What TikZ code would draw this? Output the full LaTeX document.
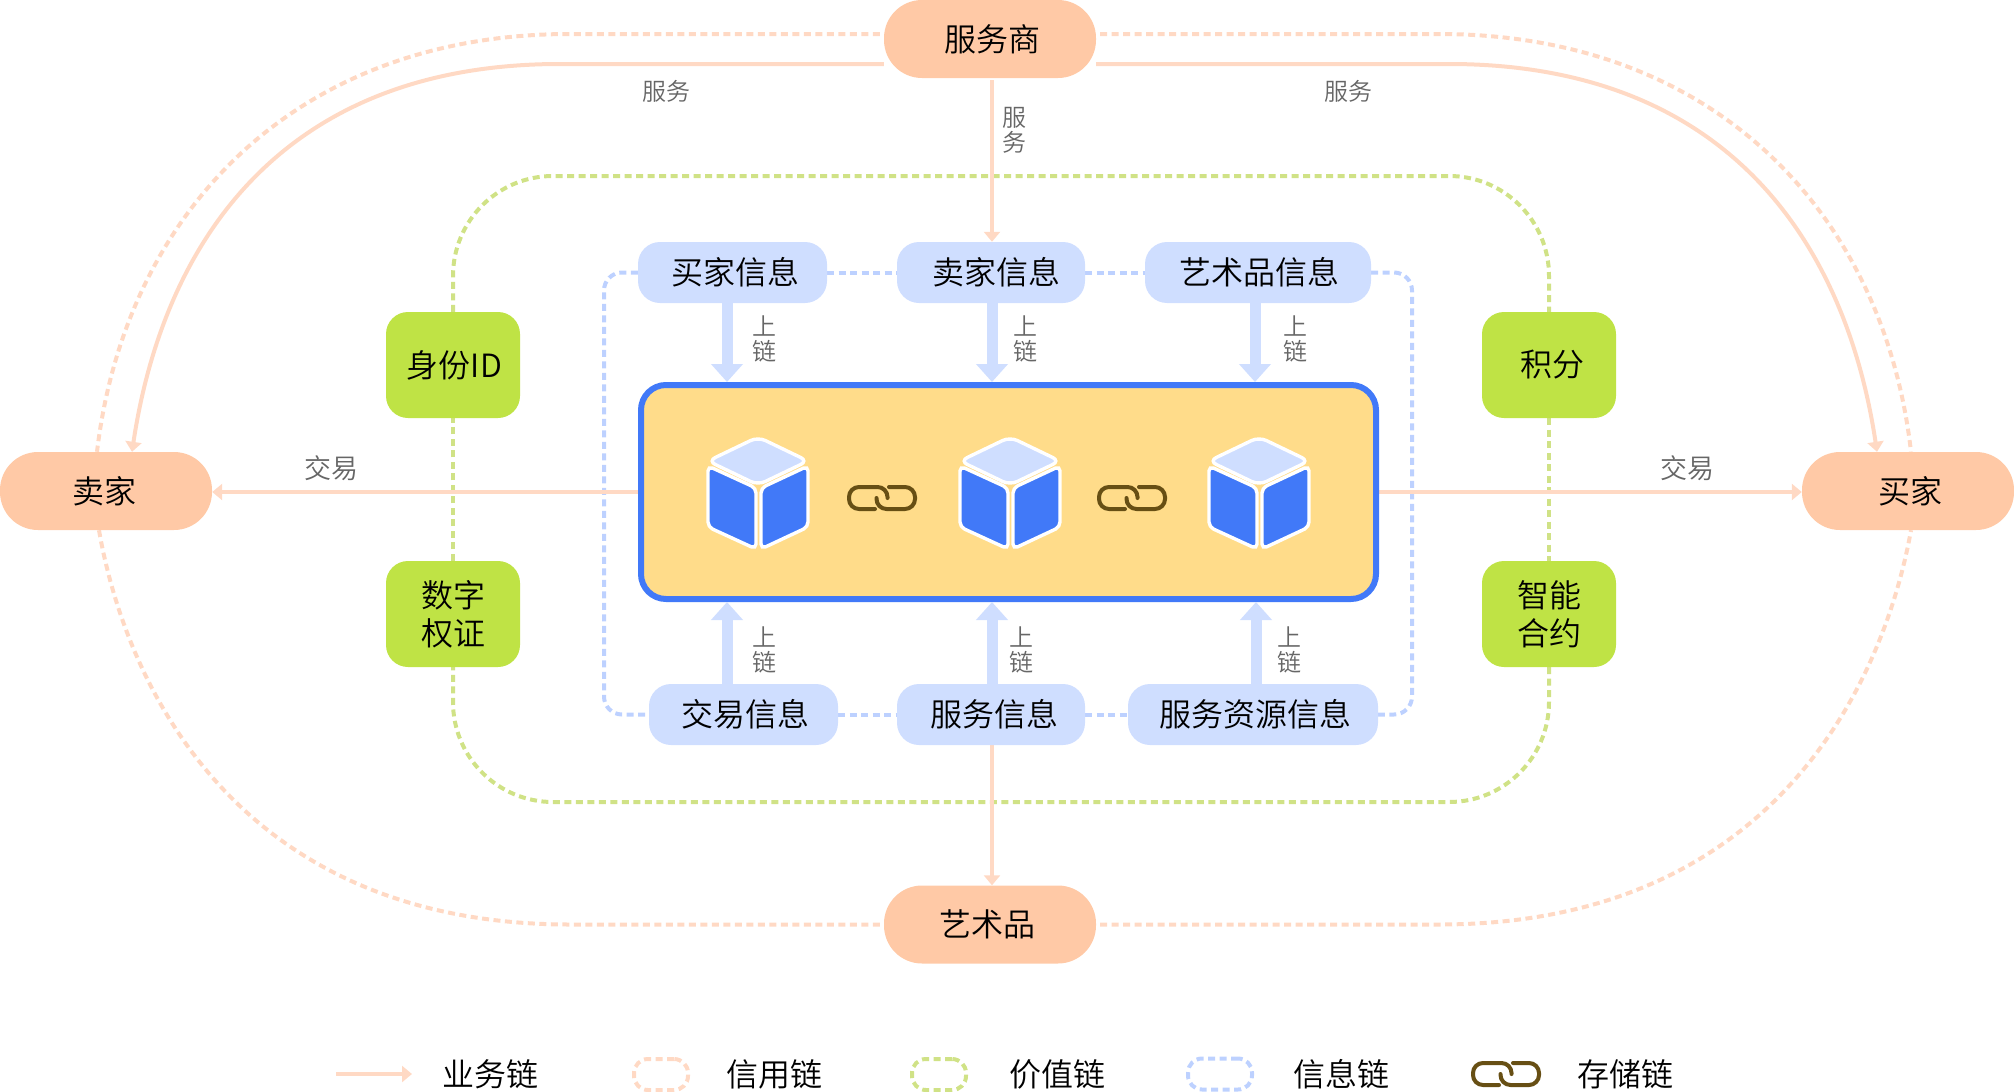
\documentclass[tikz,border=0pt]{standalone}
\usepackage{fontspec}
\setmainfont{Noto Sans CJK SC}[UprightFont=* DemiLight]
\usetikzlibrary{arrows.meta,backgrounds}
\definecolor{partyfill}{HTML}{FFC9A6}
\definecolor{bizline}{HTML}{FFD9C4}
\definecolor{tokenfill}{HTML}{BFE345}
\definecolor{valueline}{HTML}{D0E286}
\definecolor{infofill}{HTML}{CFDEFF}
\definecolor{infoline}{HTML}{BDD1FF}
\definecolor{chainblue}{HTML}{4179F8}
\definecolor{ledgerfill}{HTML}{FFDC8A}
\definecolor{linkbrown}{HTML}{674F14}
\definecolor{labelgray}{HTML}{666666}
\tikzset{
    party/.style={fill=partyfill, rounded corners=38pt, minimum width=212pt, minimum height=78pt, inner sep=0pt, font=\fontsize{32}{38}\selectfont},
    infobox/.style={fill=infofill, rounded corners=22pt, minimum height=61pt, inner sep=0pt, font=\fontsize{32}{38}\selectfont},
    tokenbox/.style={fill=tokenfill, rounded corners=22pt, minimum width=134pt, minimum height=106pt, inner sep=0pt, align=center, font=\fontsize{32}{38}\selectfont},
    ledger/.style={draw=chainblue, line width=6pt, fill=ledgerfill, rounded corners=25pt, minimum width=735pt, minimum height=214pt},
    smalllabel/.style={text=labelgray, inner sep=0pt, align=center, font=\fontsize{24}{25}\selectfont},
    legendtext/.style={inner sep=0pt, font=\fontsize{32}{36}\selectfont},
    bizarrow/.style={draw=bizline, line width=4pt, -{Triangle[width=16pt,length=10pt]}},
    creditchain/.style={draw=bizline, line width=4pt, dash pattern=on 7pt off 4.5pt},
    valuechain/.style={draw=valueline, line width=4pt, dash pattern=on 7pt off 4.5pt, rounded corners=100pt},
    infochain/.style={draw=infoline, line width=4pt, dash pattern=on 7pt off 4.5pt, rounded corners=18pt},
    uparrow/.style={draw=infofill, line width=11pt, -{Triangle[width=31pt,length=18pt]}},
    swatch/.style={line width=4pt, dash pattern=on 7pt off 4.5pt, rounded corners=14pt, inner sep=0pt, minimum height=31pt},
    blockcube/.pic={
        \begin{scope}[draw=white, line width=3.4pt, rounded corners=5pt, fill=chainblue]
            \filldraw[fill=infofill, rounded corners=8pt] (0,-57) -- (50,-33) -- (0,-9) -- (-50,-33) -- cycle;
            \filldraw (-50,-28) -- (-2,-6) -- (-2,55) -- (-50,33) -- cycle;
            \filldraw (3,-6) -- (50,-28) -- (50,33) -- (3,55) -- cycle;
        \end{scope}
    },
    chainlink/.pic={
        \begin{scope}[draw=linkbrown, line width=4pt, line cap=round, rounded corners=10pt]
            \draw (-7,11) -- (-33,11) -- (-33,-11) -- (5.5,-11) -- (5.5,0);
            \draw (7,-11) -- (33,-11) -- (33,11) -- (-5.5,11) -- (-5.5,0);
        \end{scope}
    }
}
\begin{document}
\begin{tikzpicture}[x=1pt, y=-1pt]
    \useasboundingbox (0,0) rectangle (2014,1092);

    % Parties on the outer ring
    \node[party] (provider) at (990,39) {\hspace*{5pt}服务商};
    \node[party] (artwork) at (990,924.5) {\hspace*{-5pt}艺术品};
    \node[party] (seller) at (106,491) {\hspace*{-3pt}卖家};
    \node[party] (buyer) at (1908,491) {\hspace*{5pt}买家};

    % Ledger with its blocks
    \node[ledger] (ledgerbox) at (1008.5,492) {};
    \foreach \n/\x in {1/758,2/1010,3/1259} {
        \pic (cube\n) at (\x,494) {blockcube};
    }
    \foreach \n/\x in {1/882,2/1132} {
        \pic (link\n) at (\x,498) {chainlink};
    }

    % Information boxes
    \node[infobox, minimum width=189pt] (buyerinfo) at (732.5,272.5) {\hspace*{5pt}买家信息};
    \node[infobox, minimum width=188pt] (sellerinfo) at (991,272.5) {\hspace*{10pt}卖家信息};
    \node[infobox, minimum width=226pt] (artinfo) at (1258,272.5) {\hspace*{3pt}艺术品信息};
    \node[infobox, minimum width=189pt] (tradeinfo) at (743.5,714.5) {\hspace*{3pt}交易信息};
    \node[infobox, minimum width=188pt] (serviceinfo) at (991,714.5) {\hspace*{7pt}服务信息};
    \node[infobox, minimum width=250pt] (resourceinfo) at (1253,714.5) {\hspace*{5pt}服务资源信息};

    % Token boxes
    \node[tokenbox] (idbox) at (453,365) {\hspace*{3pt}身份ID};
    \node[tokenbox] (rightsbox) at (453,614) {数字\\权证};
    \node[tokenbox] (pointsbox) at (1549,365) {\hspace*{7pt}积分};
    \node[tokenbox] (contractbox) at (1549,614) {智能\\合约};

    % Free labels
    \node[smalllabel] (serviceleft) at (666,91) {服务};
    \node[smalllabel] (serviceright) at (1348,91) {服务};
    \node[smalllabel] (servicedown) at (1014,130) {服\\务};
    \node[smalllabel, font=\fontsize{27}{30}\selectfont] (tradeleft) at (331,468) {交易};
    \node[smalllabel, font=\fontsize{27}{30}\selectfont] (traderight) at (1687,468) {交易};
    \foreach \n/\x/\y in {1/764/339,2/1025/339,3/1295/339,4/764/650,5/1021/650,6/1289/650} {
        \node[smalllabel] (onchain\n) at (\x,\y) {上\\链};
    }

    % Legend
    \coordinate (legendfrom) at (336,1074);
    \coordinate (legendto) at (412,1074);
    \node[legendtext] (legendbiz) at (490,1074) {业务链};
    \node[swatch, draw=bizline, minimum width=54pt] (swatchcredit) at (661,1074.5) {};
    \node[legendtext] (legendcredit) at (774,1074) {信用链};
    \node[swatch, draw=valueline, minimum width=54pt] (swatchvalue) at (939,1074.5) {};
    \node[legendtext] (legendvalue) at (1057,1074) {价值链};
    \node[swatch, draw=infoline, minimum width=64pt] (swatchinfo) at (1220,1074) {};
    \node[legendtext] (legendinfo) at (1341,1074) {信息链};
    \pic (legendlink) at (1506,1074) {chainlink};
    \node[legendtext] (legendstore) at (1625,1074) {存储链};

    % Connectors stay behind the boxes
    \begin{scope}[on background layer]
        % Credit chain
        \draw[creditchain] ([xshift=-4pt,yshift=5pt]provider.west) -- (570,34) .. controls (293,34) and (125,215) .. ([xshift=-9pt]seller.north);
        \draw[creditchain] ([xshift=4pt,yshift=5pt]provider.east) -- (1439,34) .. controls (1716,34) and (1884,215) .. ([xshift=3pt]buyer.north);
        \draw[creditchain] ([xshift=-4pt]artwork.west) -- (570,924.5) .. controls (233,924.5) and (125,680) .. ([xshift=-7pt]seller.south);
        \draw[creditchain] ([xshift=4pt]artwork.east) -- (1439,924.5) .. controls (1776,924.5) and (1884,680) .. ([xshift=3pt]buyer.south);

        % Value chain
        \coordinate (valuetop) at (1000,176);
        \coordinate (valuebottom) at (1000,802);
        \draw[valuechain] (idbox.north) |- (valuetop) -| (pointsbox.north);
        \draw[valuechain] (contractbox.south) |- (valuebottom) -| (rightsbox.south);
        \draw[valuechain] (pointsbox.south) -- (contractbox.north);
        \draw[valuechain] (rightsbox.north) -- (idbox.south);

        % Information chain
        \coordinate (infoleft) at (604,495);
        \coordinate (inforight) at (1412,495);
        \draw[infochain] (buyerinfo.west) -| (infoleft) |- (tradeinfo.west);
        \draw[infochain] (artinfo.east) -| (inforight) |- (resourceinfo.east);
        \draw[infochain] (buyerinfo) -- (sellerinfo);
        \draw[infochain] (sellerinfo) -- (artinfo);
        \draw[infochain] (tradeinfo) -- (serviceinfo);
        \draw[infochain] (serviceinfo) -- (resourceinfo);

        % Business chain
        \draw[bizarrow] ([yshift=-25pt]provider.west) -- (560,64) .. controls (274,64) and (162,252) .. ([xshift=26pt]seller.north);
        \draw[bizarrow] ([yshift=-25pt]provider.east) -- (1449,64) .. controls (1735,64) and (1847,252) .. ([xshift=-31pt]buyer.north);
        \draw[bizarrow] ([xshift=2pt,yshift=-2pt]provider.south) -- ([xshift=2pt]provider.south |- sellerinfo.north);
        \draw[bizarrow] ([xshift=1pt]serviceinfo.south) -- ([xshift=1pt]serviceinfo.south |- artwork.north);
        \draw[bizarrow] (ledgerbox.west) -- (ledgerbox.west -| seller.east);
        \draw[bizarrow] (ledgerbox.east) -- (ledgerbox.east -| buyer.west);
        \draw[bizarrow] (legendfrom) -- (legendto);
    \end{scope}

    % Uploads to the ledger
    \draw[uparrow] ([xshift=-5.5pt]buyerinfo.south) -- ([xshift=-5.5pt]buyerinfo.south |- ledgerbox.north);
    \draw[uparrow] ([xshift=1pt]sellerinfo.south) -- ([xshift=1pt]sellerinfo.south |- ledgerbox.north);
    \draw[uparrow] ([xshift=-3pt]artinfo.south) -- ([xshift=-3pt]artinfo.south |- ledgerbox.north);
    \draw[uparrow] ([xshift=-16.5pt]tradeinfo.north) -- ([xshift=-16.5pt]tradeinfo.north |- ledgerbox.south);
    \draw[uparrow] ([xshift=1pt]serviceinfo.north) -- ([xshift=1pt]serviceinfo.north |- ledgerbox.south);
    \draw[uparrow] ([xshift=3pt]resourceinfo.north) -- ([xshift=3pt]resourceinfo.north |- ledgerbox.south);
\end{tikzpicture}
\end{document}
